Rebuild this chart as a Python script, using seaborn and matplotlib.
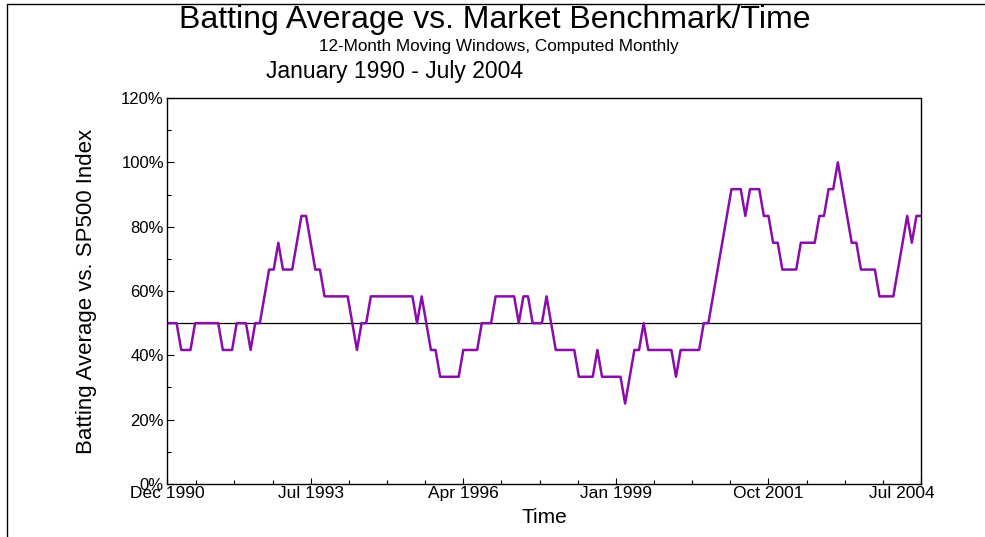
import numpy as np
import pandas as pd
import matplotlib.pyplot as plt
import seaborn as sns
import matplotlib.transforms as mtransforms
from matplotlib.lines import Line2D
from matplotlib.ticker import FixedLocator, MultipleLocator

# months out of each trailing 12 in which the manager beat the SP500
# one value per month, Dec 1990 .. Jul 2004
hits = [6, 6, 6, 5, 5, 5, 6, 6, 6, 6, 6, 6,
        5, 5, 5, 6, 6, 6, 5, 6, 6, 7, 8, 8,
        9, 8, 8, 8, 9, 10, 10, 9, 8, 8, 7, 7,
        7, 7, 7, 7, 6, 5, 6, 6, 7, 7, 7, 7,
        7, 7, 7, 7, 7, 7, 6, 7, 6, 5, 5, 4,
        4, 4, 4, 4, 5, 5, 5, 5, 6, 6, 6, 7,
        7, 7, 7, 7, 6, 7, 7, 6, 6, 6, 7, 6,
        5, 5, 5, 5, 5, 4, 4, 4, 4, 5, 4, 4,
        4, 4, 4, 3, 4, 5, 5, 6, 5, 5, 5, 5,
        5, 5, 4, 5, 5, 5, 5, 5, 6, 6, 7, 8,
        9, 10, 11, 11, 11, 10, 11, 11, 11, 10, 10, 9,
        9, 8, 8, 8, 8, 9, 9, 9, 9, 10, 10, 11,
        11, 12, 11, 10, 9, 9, 8, 8, 8, 8, 7, 7,
        7, 7, 8, 9, 10, 9, 10, 10]
window = 12
months = pd.date_range("1990-12-01", periods=len(hits), freq="MS")

tick_labels = ["Dec 1990", "Jul 1993", "Apr 1996", "Jan 1999", "Oct 2001", "Jul 2004"]
tick_pos = [months.get_loc(pd.Timestamp(t)) for t in pd.to_datetime(tick_labels, format="%b %Y")]

df = pd.DataFrame({"month": np.arange(len(hits)),
                   "pct": np.array(hits) / window * 100})

LINE_COLOR = "#8A0CAA"

sns.set_theme(style="white")
plt.rcParams['font.family'] = ['Liberation Sans', 'DejaVu Sans']
plt.rcParams['text.color'] = 'black'
plt.rcParams['axes.labelcolor'] = 'black'
plt.rcParams['xtick.color'] = 'black'
plt.rcParams['ytick.color'] = 'black'

fig = plt.figure(figsize=(9.85, 5.37), dpi=100)
ax = fig.add_axes([0.1699, 0.0987, 0.7652, 0.7188])

sns.lineplot(data=df, x="month", y="pct", color=LINE_COLOR, lw=1.8, ax=ax)
ax.axhline(50, color="black", lw=0.9, zorder=1)

ax.set_xlim(0, len(hits) - 1)
ax.set_ylim(0, 120)

ax.set_xticks(tick_pos)
ax.set_xticklabels(tick_labels, fontsize=12.5)
ax.xaxis.set_minor_locator(FixedLocator(np.arange(6.25, 163.1, 8.25)))
ax.yaxis.set_major_locator(MultipleLocator(20))
ax.yaxis.set_minor_locator(MultipleLocator(10))
ax.set_yticklabels([f"{int(v)}%" for v in ax.get_yticks()], fontsize=12)

ax.tick_params(axis="x", which="major", direction="in", length=4, width=0.8, pad=1.5, color="black")
ax.tick_params(axis="x", which="minor", direction="in", length=3, width=0.8, color="black")
ax.tick_params(axis="y", which="major", direction="in", length=5, width=0.8, pad=2.5, color="black")
ax.tick_params(axis="y", which="minor", direction="in", length=3, width=0.8, color="black")
ax.tick_params(bottom=True, left=True, which="both")

# last date label is pulled in a bit, like the original
last = ax.get_xticklabels()[-1]
last.set_transform(last.get_transform() + mtransforms.ScaledTranslation(-19 / 100, 0, fig.dpi_scale_trans))

for sp in ax.spines.values():
    sp.set_color("black")
    sp.set_linewidth(1)

ax.set_xlabel("Time", fontsize=15, labelpad=5)
ax.set_ylabel("Batting Average vs. SP500 Index", fontsize=16)
ax.yaxis.set_label_coords(-0.093, 0.5)

fig.text(0.5025, 0.962, "Batting Average vs. Market Benchmark/Time", fontsize=23,
         ha="center", va="center")
fig.text(0.5066, 0.914, "12-Month Moving Windows, Computed Monthly", fontsize=12.3,
         ha="center", va="center")
fig.text(0.400, 0.866, "January 1990 - July 2004", fontsize=16.5, ha="center", va="center")

# page border (left and top only)
fig.add_artist(Line2D([7 / 985, 7 / 985], [0, 1 - 4 / 537], transform=fig.transFigure,
                      color="black", lw=1))
fig.add_artist(Line2D([7 / 985, 1], [1 - 4 / 537, 1 - 4 / 537], transform=fig.transFigure,
                      color="black", lw=1))

fig.savefig("out.png", dpi=100, facecolor="white")
